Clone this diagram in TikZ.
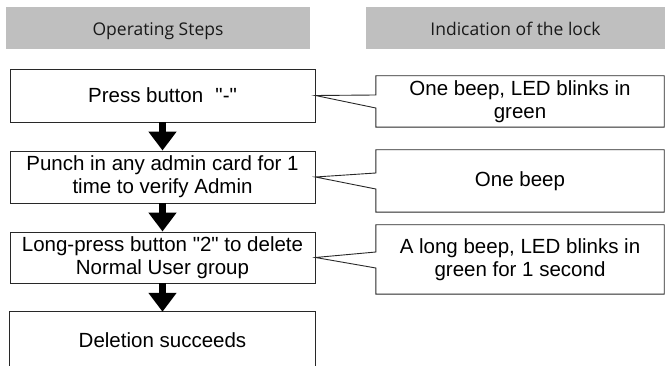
\documentclass[tikz,border=0pt]{standalone}
\usepackage{fontspec}
\setmainfont{Liberation Sans}[Ligatures=TeXOff]
\newfontfamily\headfont{Open Sans}[Ligatures=TeXOff]
\usetikzlibrary{arrows.meta,calc}
\definecolor{hdrgray}{RGB}{191,191,191}
\definecolor{edge}{RGB}{40,40,40}
\begin{document}
\begin{tikzpicture}[x=1pt,y=-1pt,
  header/.style={fill=hdrgray,draw=none,inner sep=0pt,minimum height=42pt,
    text height=15.5pt,text depth=0pt,
    font=\headfont\fontsize{17.5}{20}\selectfont,text=black!90},
  stepbox/.style={draw=edge,line width=0.9pt,inner sep=0pt,minimum width=305pt,
    align=center,font=\fontsize{20.5}{23}\selectfont},
  infotext/.style={inner sep=0pt,align=center,font=\fontsize{20.5}{23}\selectfont},
  callout/.style={draw=edge,line width=0.9pt,line join=miter},
  flow/.style={line width=7pt,-{Triangle[length=19pt,width=27pt]}}
]
\useasboundingbox (0,0) rectangle (665,366);

\node[header,minimum width=304pt] (H1) at (158,28) {Operating Steps};
\node[header,minimum width=299pt] (H2) at (515.5,28) {Indication of the lock};

\node[stepbox,minimum height=53pt] (L1) at (162.5,95.5) {Press button\hspace{0.6em}"-"};
\node[stepbox,minimum height=52pt] (L2) at (162.5,177) {Punch in any admin card for 1\\time to verify Admin};
\node[stepbox,minimum height=51pt] (L3) at (162.5,257.5) {Long-press button "2" to delete\\Normal User group};
\node[infotext,minimum width=305pt,minimum height=56pt] (L4) at (162.5,340) {Deletion succeeds};
\draw[draw=edge,line width=0.9pt] (L4.south west) -- (L4.north west) -- (L4.north east) -- (L4.south east);

\draw[flow] (L1.south) -- (L2.north);
\draw[flow] (L2.south) -- (L3.north);
\draw[flow] (L3.south) -- (L4.north);

\node[infotext,minimum width=288pt,minimum height=51pt] (R1) at (520,101.5) {One beep, LED blinks in\\green};
\node[infotext,minimum width=288pt,minimum height=62pt] (R2) at (520,181) {One beep};
\node[infotext,minimum width=288pt,minimum height=69pt] (R3) at (520,259.5) {A long beep, LED blinks in\\green for 1 second};

\draw[callout] (R1.north west) -- (R1.north east) -- (R1.south east) -- (R1.south west)
  -- (R1.west |- 0,108) -- (L1.east) -- (R1.west |- 0,95) -- cycle;
\draw[callout] (R2.north west) -- (R2.north east) -- (R2.south east) -- (R2.south west)
  -- (R2.west |- 0,189) -- (L2.east) -- (R2.west |- 0,173) -- cycle;
\draw[callout] (R3.north west) -- (R3.north east) -- (R3.south east) -- (R3.south west)
  -- (R3.west |- 0,268) -- (L3.east) -- (R3.west |- 0,252) -- cycle;
\end{tikzpicture}
\end{document}
